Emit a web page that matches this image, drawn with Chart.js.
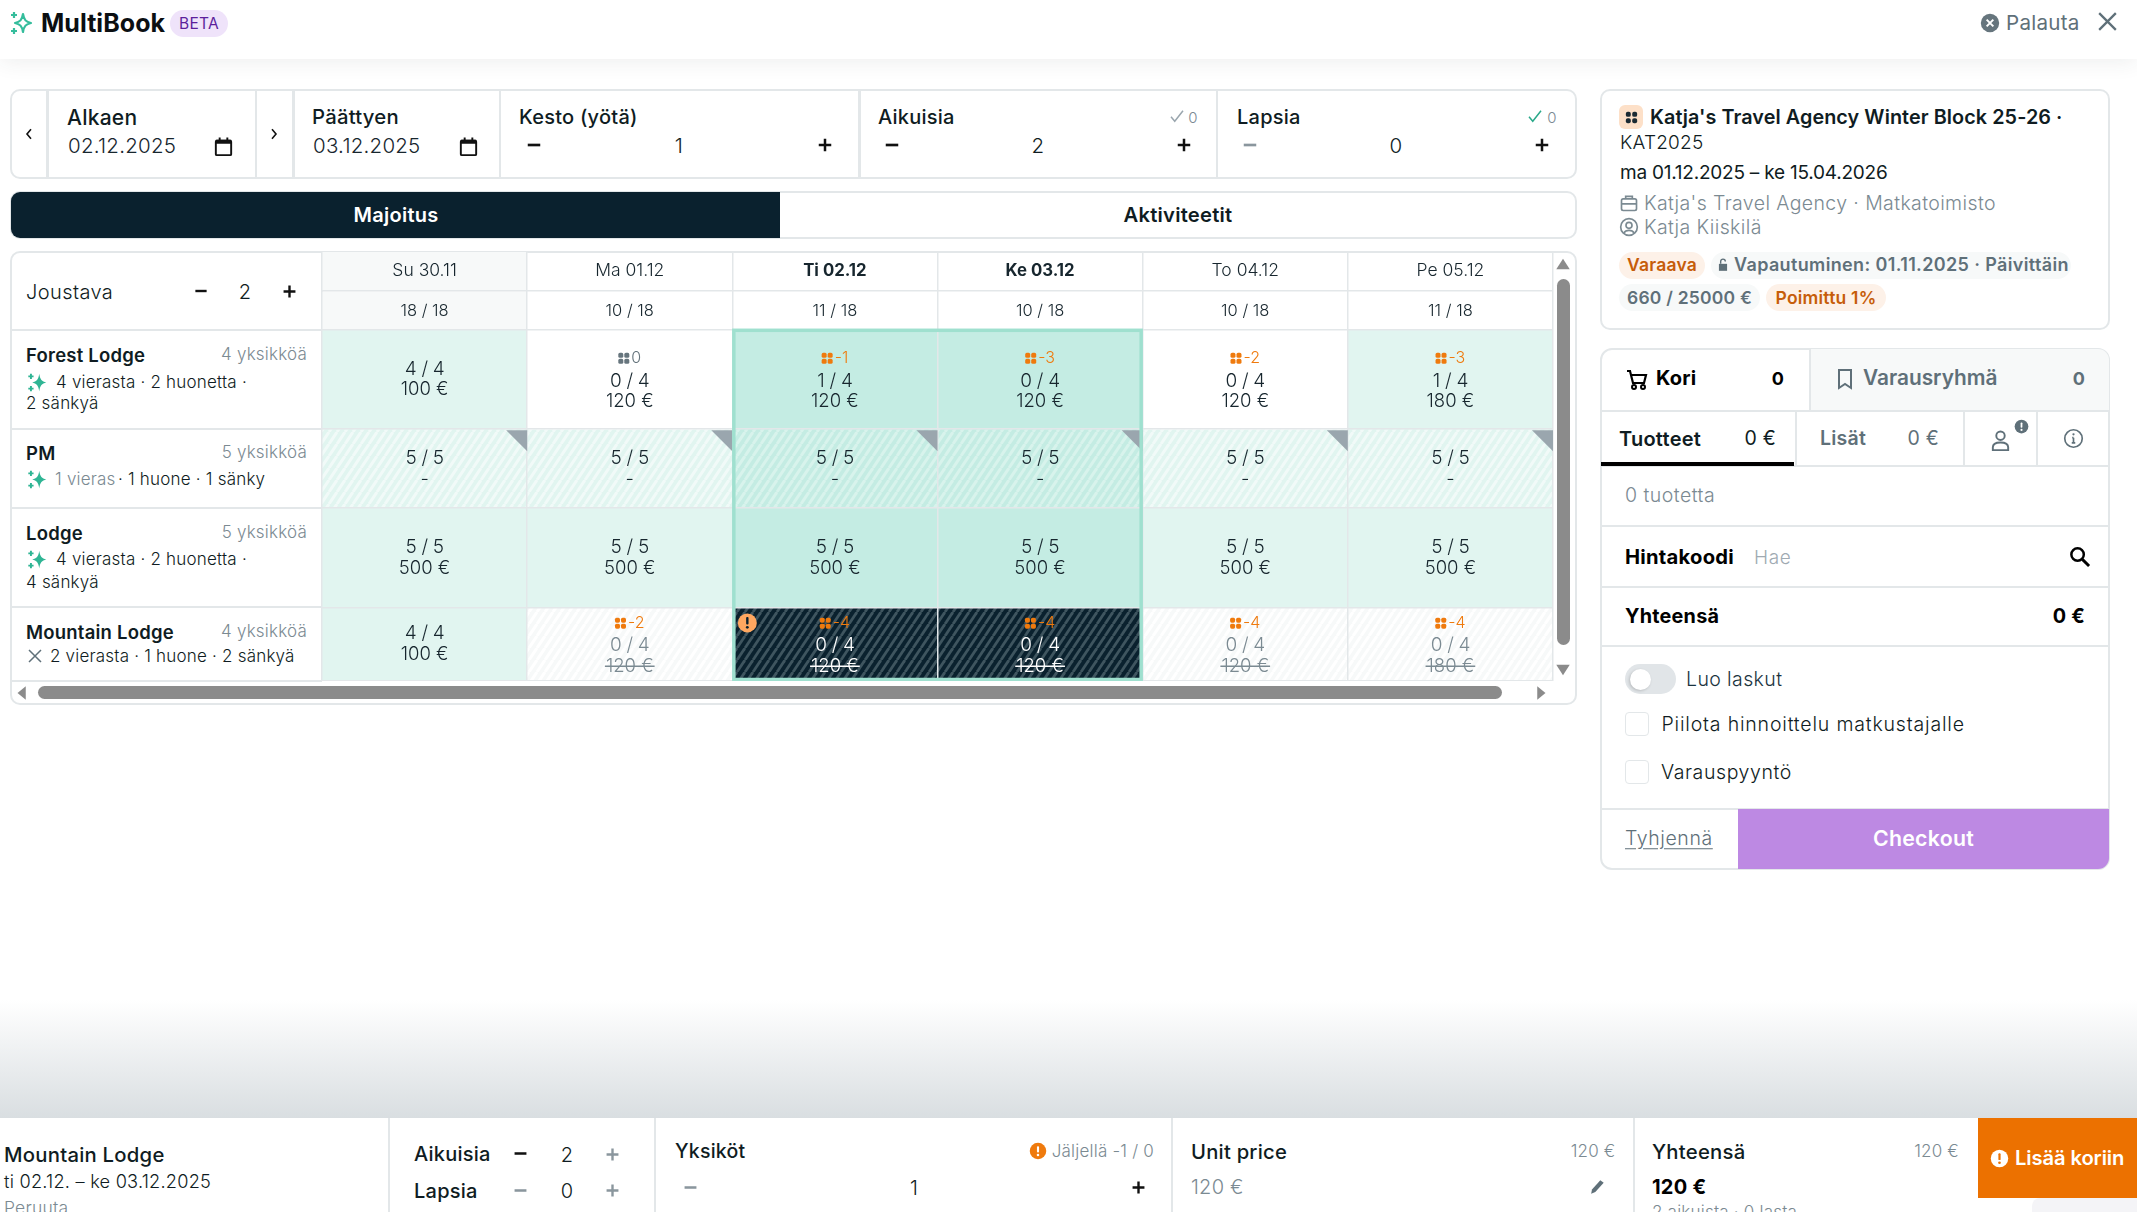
<!DOCTYPE html>
<html lang="fi"><head><meta charset="utf-8"><title>MultiBook</title>
<script src="https://cdn.jsdelivr.net/npm/chart.js@4"></script>
<style>
html,body{margin:0;padding:0;background:#fff;width:2137px;height:1212px;overflow:hidden;font-family:Inter,"Noto Sans",sans-serif;color:#0f1c22}
.t{position:absolute;white-space:nowrap;line-height:1;letter-spacing:.012em}
.b{position:absolute;box-sizing:border-box}
svg{position:absolute;overflow:visible}
#grid{position:absolute;left:321px;top:252px}
</style></head><body>
<div id="ui"></div>
<canvas id="grid" width="1233" height="429"></canvas>
<div id="ui2"></div>
<script>
// ---- data ----
const days=['Su 30.11','Ma 01.12','Ti 02.12','Ke 03.12','To 04.12','Pe 05.12'];
const selectedDays=['Ti 02.12','Ke 03.12'];
const capacityLeft=[18,10,11,10,10,11];
const capacityTotal=18;
const roomNames=['Forest Lodge','PM','Lodge','Mountain Lodge'];
const roomUnits=[4,5,5,4];
const forestAvail=[4,0,1,0,0,1];
const forestPrice=[100,120,120,120,120,180];
const forestBlock=[null,0,-1,-3,-2,-3];
const pmAvail=[5,5,5,5,5,5];
const pmPrice=[null,null,null,null,null,null];
const pmBlock=[null,null,null,null,null,null];
const lodgeAvail=[5,5,5,5,5,5];
const lodgePrice=[500,500,500,500,500,500];
const lodgeBlock=[null,null,null,null,null,null];
const mountainAvail=[4,0,0,0,0,0];
const mountainPrice=[100,120,120,120,120,180];
const mountainBlock=[null,-2,-4,-4,-4,-4];
const rowSpans=[38.5,99.5,78.5,99.5,73.5]; // relative row heights: capacity row, then rooms

// ---- helpers ----
const FONT='Inter,"Noto Sans",sans-serif';
const host=document.getElementById('ui');
function t(text,x,cy,o={}){const e=document.createElement('div');e.className='t';e.textContent=text;
 const a=o.a||'l';let tr='translateY(-50%)';if(a==='r')tr='translate(-100%,-50%)';if(a==='c')tr='translate(-50%,-50%)';
 e.style.cssText=`left:${x}px;top:${cy}px;transform:${tr};font-size:${o.s||19}px;font-weight:${o.w||400};color:${o.c||'#0f1c22'};`+(o.ls!=null?`letter-spacing:${o.ls}em;`:'')+(o.x||'');
 (o.h||host).appendChild(e);return e}
function box(x,y,w,h,css,parent){const e=document.createElement('div');e.className='b';e.style.cssText=`left:${x}px;top:${y}px;width:${w}px;height:${h}px;`+css;(parent||host).appendChild(e);return e}
function ic(cx,cy,size,inner,parent){const d=document.createElementNS('http://www.w3.org/2000/svg','svg');
 d.setAttribute('viewBox','0 0 24 24');d.setAttribute('width',size);d.setAttribute('height',size);
 d.style.left=(cx-size/2)+'px';d.style.top=(cy-size/2)+'px';d.innerHTML=inner;(parent||host).appendChild(d)}
const LINE='#e3e7e9',GR='#7b8a92',SL='#5f7079';
const plus=c=>`<path d="M12 4.5v15M4.5 12h15" stroke="${c}" stroke-width="3" fill="none"/>`;
const minus=c=>`<path d="M4.5 12h15" stroke="${c}" stroke-width="3.2" fill="none"/>`;
const cal=`<path d="M5 6h14a1 1 0 0 1 1 1v13a1 1 0 0 1-1 1H5a1 1 0 0 1-1-1V7a1 1 0 0 1 1-1z" fill="none" stroke="#111" stroke-width="2"/><path d="M4 5h16v4H4zM7 2.5h2v3H7zM15 2.5h2v3h-2z" fill="#111"/>`;
const spark=c=>`<path d="M14 2c1 6.5 3 9 8 10-5 1-7 3.5-8 10-1-6.5-3-9-8-10 5-1 7-3.5 8-10z" fill="${c}"/><path d="M4.5 2v6M1.5 5h6M4.5 16v6M1.5 19h6" stroke="${c}" stroke-width="2.2"/>`;
const check=c=>`<path d="M4 13l5 6L20 5" stroke="${c}" stroke-width="2" fill="none"/>`;
const chev=d=>`<path d="${d}" stroke="#111" stroke-width="2.4" fill="none"/>`;
const dots=c=>`<rect x="4" y="4" width="7" height="7" rx="2.6" fill="${c}"/><rect x="13" y="4" width="7" height="7" rx="2.6" fill="${c}"/><rect x="4" y="13" width="7" height="7" rx="2.6" fill="${c}"/><rect x="13" y="13" width="7" height="7" rx="2.6" fill="${c}"/>`;
const warn=(bg,fg)=>`<circle cx="12" cy="12" r="11" fill="${bg}"/><rect x="10.6" y="5.5" width="2.8" height="8.5" rx="1.2" fill="${fg}"/><circle cx="12" cy="17.4" r="1.7" fill="${fg}"/>`;

// ---- top bar ----
box(0,0,2137,59,'background:#fff;box-shadow:0 2px 22px rgba(40,60,60,.09);');
ic(22,23,24,`<path d="M13 3c1 6 3 8 8 9-5 1-7 3-8 9-1-6-3-8-8-9 5-1 7-3 8-9z" fill="none" stroke="#35bd9c" stroke-width="2.2" stroke-linejoin="round"/><path d="M4 1v6M1 4h6M4 17v6M1 20h6" stroke="#35bd9c" stroke-width="2.2"/>`);
t('MultiBook',41,23,{s:25,w:700,c:'#0b0f12',ls:.002});
box(170,10,58,27,'background:#efe3fa;border-radius:14px;');
t('BETA',199,24,{s:15.5,w:400,c:'#5c1f9c',a:'c',ls:.02});
ic(1990,23,20,`<circle cx="12" cy="12" r="11" fill="#66757d"/><path d="M8 8l8 8M16 8l-8 8" stroke="#fff" stroke-width="2.4"/>`);
t('Palauta',2006,23,{s:20.6,w:400,c:'#5f7079'});
ic(2107,21,25,`<path d="M4 4l16 16M20 4L4 20" stroke="#5f7079" stroke-width="2.2"/>`);

// ---- filter bar ----
box(10,89,1567,90,`border:2px solid ${LINE};border-radius:10px;background:#fff;`);
[[46,3],[255,2],[292,3],[499,2],[858,3],[1216,2]].forEach(([x,w])=>box(x,90,w,88,`background:${LINE};`));
ic(29,134,16,chev('M15 5l-6 7 6 7'));ic(274,134,16,chev('M9 5l6 7-6 7'));
t('Alkaen',67,116.5,{s:21,w:500});t('02.12.2025',68,146,{s:20.5,w:300,c:'#17262e'});ic(223.5,146,23,cal);
t('Päättyen',312,116.5,{s:20.3,w:500});t('03.12.2025',313,146,{s:20.5,w:300,c:'#17262e'});ic(468,146,23,cal);
t('Kesto (yötä)',519,116.5,{s:20,w:500});ic(534,145,20,minus('#111'));t('1',679,146,{s:20.5,w:300,a:'c'});ic(825,145,20,plus('#111'));
t('Aikuisia',878,116.5,{s:20,w:500});ic(1177,116,18,check('#9aa6ae'));t('0',1193,117,{s:15,w:300,c:GR,a:'c'});
ic(892,145,20,minus('#111'));t('2',1038,146,{s:20.5,w:300,a:'c'});ic(1184,145,20,plus('#111'));
t('Lapsia',1237,116.5,{s:20,w:500});ic(1535,116,18,check('#2aa98a'));t('0',1552,117,{s:15,w:300,c:GR,a:'c'});
ic(1250,145,20,minus('#8a969d'));t('0',1396,146,{s:20.5,w:300,a:'c'});ic(1542,145,20,plus('#111'));

// ---- tabs ----
box(10,191,1567,48,`border:2px solid ${LINE};border-radius:10px;background:#fff;`);
box(11,192,769,46,'background:#0a212e;border-radius:9px 0 0 9px;');
t('Majoitus',396,215,{s:20,w:600,c:'#fff',a:'c'});t('Aktiviteetit',1178,215,{s:20.2,w:600,a:'c'});

// ---- grid frame + left column ----
box(10,251,1567,454,`border:2px solid ${LINE};border-radius:10px;background:#fff;`);
t('Joustava',26,291.5,{s:20,w:300,ls:.02});ic(201,291,18,minus('#111'));t('2',245,292,{s:20,w:300,a:'c'});ic(289,291,19,plus('#111'));
const roomY=[355,453,533,632],detailY=[382,479,559,656];
const rowLines=[329,428,507,606,680];
rowLines.forEach(y=>box(12,y,310,2,`background:${LINE};`));
box(321,252,2,429,`background:${LINE};`);
roomNames.forEach((n,i)=>{t(n,26,roomY[i],{s:18.5,w:600});t(roomUnits[i]+' yksikköä',307,roomY[i]-1,{s:17,w:300,c:GR,a:'r'})});
ic(37,382,21,spark('#2fb594'));t('4 vierasta · 2 huonetta ·',56,381.5,{s:17,w:300});t('2 sänkyä',26,403,{s:17,w:300});
ic(37,479,21,spark('#2fb594'));t('1 vieras',55,479,{s:17,w:300,c:GR});t('· 1 huone · 1 sänky',118,479,{s:17,w:300});
ic(37,559,21,spark('#2fb594'));t('4 vierasta · 2 huonetta ·',56,558.5,{s:17,w:300});t('4 sänkyä',26,582,{s:17,w:300});
ic(35,656,18,`<path d="M4 4l16 16M20 4L4 20" stroke="#5f7079" stroke-width="2"/>`);t('2 vierasta · 1 huone · 2 sänkyä',50,655.5,{s:17,w:300});
// scrollbars
box(38,686,1464,13,'background:#8b8b8b;border-radius:7px;');
box(1557,279,13,366,'background:#8b8b8b;border-radius:7px;');
ic(22,692.5,18,`<path d="M17 3v18L6 12z" fill="#8b8b8b"/>`);ic(1541,692.5,18,`<path d="M7 3v18l11-9z" fill="#8b8b8b"/>`);
ic(1563,264,18,`<path d="M3 19h18L12 5z" fill="#8b8b8b"/>`);ic(1563,670,18,`<path d="M3 5h18L12 19z" fill="#8b8b8b"/>`);

// ---- right info card ----
box(1600,89,510,241,`border:2px solid ${LINE};border-radius:10px;background:#fff;`);
box(1619,105,24,24,'background:#fde0c8;border-radius:6px;');ic(1631,117,17,dots('#1b2a33'));
t("Katja's Travel Agency Winter Block 25-26 ·",1650,118,{s:19.8,w:600,ls:.004});
t('KAT2025',1620,142,{s:19,w:300});t('ma 01.12.2025 – ke 15.04.2026',1620,172,{s:19,w:400,ls:-.012});
ic(1629,203,20,`<rect x="3" y="7" width="18" height="14" rx="2" fill="none" stroke="#7b8a92" stroke-width="2"/><path d="M8 7V4h8v3M3 13h18" fill="none" stroke="#7b8a92" stroke-width="2"/>`);
t("Katja's Travel Agency · Matkatoimisto",1644,203.5,{s:19.5,w:300,c:GR,ls:.02});
ic(1629,227,20,`<circle cx="12" cy="12" r="10" fill="none" stroke="#7b8a92" stroke-width="2"/><circle cx="12" cy="10" r="3.6" fill="none" stroke="#7b8a92" stroke-width="2"/><path d="M6 19c2-4 10-4 12 0" fill="none" stroke="#7b8a92" stroke-width="2"/>`);
t('Katja Kiiskilä',1644,227.5,{s:19.5,w:300,c:GR,ls:.02});
const pill=(x,y,w,bg)=>box(x,y,w,27,`background:${bg};border-radius:14px;`);
pill(1619,252,86,'#fdf1e8');t('Varaava',1662,265,{s:17.5,w:600,c:'#c65d0a',a:'c'});
pill(1711,252,360,'#f7f9f9');ic(1723,265,14,`<path d="M5 10h14v12H5z" fill="${SL}"/><path d="M8 10V6a4 4 0 0 1 8 0" fill="none" stroke="${SL}" stroke-width="2.4"/>`);
t('Vapautuminen: 01.11.2025 · Päivittäin',1734,265,{s:18,w:600,c:SL,ls:.02});
pill(1619,284,141,'#f7f9f9');t('660 / 25000 €',1689.5,297.5,{s:17.5,w:600,c:SL,a:'c'});
pill(1766,284,120,'#fdf1e8');t('Poimittu 1%',1826,297.5,{s:17.5,w:600,c:'#c65d0a',a:'c'});

// ---- basket card ----
box(1600,348,510,522,`border:2px solid ${LINE};border-radius:12px;background:#fff;overflow:hidden;`);
box(1809,349,300,61,`background:#f7f9f9;border-left:2px solid ${LINE};border-radius:0 11px 0 0;`);
box(1601,410,508,2,`background:${LINE};`);box(1601,465,508,2,`background:${LINE};`);
box(1601,462,193,4,'background:#000;');
[1795,1963,2036].forEach(x=>box(x,411,2,55,`background:${LINE};`));
[525,586,645,808].forEach(y=>box(1601,y,508,2,`background:${LINE};`));
ic(1637,379,24,`<path d="M2 4h3l3 12h11l2-8H6" fill="none" stroke="#000" stroke-width="2.2"/><circle cx="9" cy="20" r="2" fill="none" stroke="#000" stroke-width="2"/><circle cx="18" cy="20" r="2" fill="none" stroke="#000" stroke-width="2"/>`);
t('Kori',1656,378,{s:20,w:700,c:'#000'});t('0',1778,378.5,{s:18,w:700,c:'#000',a:'c'});
ic(1845,379,24,`<path d="M6 3h12v18l-6-4-6 4z" fill="none" stroke="${SL}" stroke-width="2"/>`);
t('Varausryhmä',1863,378,{s:20.8,w:600,c:SL,ls:0});t('0',2079,378.5,{s:18,w:700,c:SL,a:'c'});
t('Tuotteet',1619,439,{s:20,w:600});t('0 €',1776,439,{s:19.5,w:400,a:'r'});
t('Lisät',1820,439,{s:19.5,w:600,c:SL});t('0 €',1939,439,{s:19.5,w:400,c:SL,a:'r'});
ic(2000,440,23,`<circle cx="12" cy="7" r="4.4" fill="none" stroke="${SL}" stroke-width="2"/><path d="M4 22v-3c0-3 3-5 8-5s8 2 8 5v3z" fill="none" stroke="${SL}" stroke-width="2"/>`);
ic(2021,426,15,warn(SL,'#fff'));
ic(2073,438,21,`<circle cx="12" cy="12" r="10" fill="none" stroke="${SL}" stroke-width="1.9"/><path d="M12 11v6M10.5 11H12M10 17h4" stroke="${SL}" stroke-width="1.9"/><circle cx="12" cy="7.2" r="1.3" fill="${SL}"/>`);
t('0 tuotetta',1625,496,{s:19.5,w:300,c:GR,ls:.025});
t('Hintakoodi',1625,556.5,{s:20.2,w:700,c:'#000'});t('Hae',1754,556.5,{s:19,w:300,c:'#a0aab2',ls:.03});
ic(2079,556,23,`<circle cx="10" cy="10" r="6.5" fill="none" stroke="#000" stroke-width="2.6"/><path d="M15 15l7 7" stroke="#000" stroke-width="3"/>`);
t('Yhteensä',1625,616.5,{s:19.8,w:700,c:'#000'});t('0 €',2085,616.5,{s:19.8,w:700,c:'#000',a:'r'});
box(1625,664,51,30,'background:#e1e5e8;border-radius:15px;');box(1630,669,21,21,'background:#fff;border-radius:50%;box-shadow:-1px 1px 3px rgba(0,0,0,.18);');
t('Luo laskut',1686,680,{s:19.5,w:300,c:'#1b3440',ls:.02});
box(1625,712,24,24,`background:#fff;border:1.5px solid ${LINE};border-radius:4px;`);
t('Piilota hinnoittelu matkustajalle',1661.5,725,{s:19.5,w:300,ls:.042});
box(1625,760,24,24,`background:#fff;border:1.5px solid ${LINE};border-radius:4px;`);
t('Varauspyyntö',1661,773,{s:19.5,w:300,ls:.03});
box(1738,809,371,60,'background:#bd89e3;border-radius:0 0 11px 0;');
t('Checkout',1923.5,838.5,{s:21.3,w:600,c:'#fff',a:'c'});
t('Tyhjennä',1625,839,{s:19.5,w:300,c:SL,x:'text-decoration:underline;text-underline-offset:3px;',ls:.03});

// ---- bottom gradient and panel ----
box(0,1000,2137,118,'background:linear-gradient(#fff,#d9dee1);');
box(0,1118,2137,94,'background:#fff;');
[388,654,1171,1633].forEach(x=>box(x,1118,1.5,94,`background:${LINE};`));
t('Mountain Lodge',4,1155,{s:20.3,w:500});t('ti 02.12. – ke 03.12.2025',4,1180.5,{s:18.2,w:300});t('Peruuta',4,1208,{s:17.5,w:300,c:GR});
t('Aikuisia',414,1154,{s:20,w:500});ic(520,1153,19,minus('#111'));t('2',567,1155,{s:20,w:300,a:'c'});ic(612,1154,19,plus('#8a969d'));
t('Lapsia',414,1190.5,{s:20,w:500});ic(520,1190,19,minus('#8a969d'));t('0',567,1191,{s:20,w:300,a:'c'});ic(612,1190,19,plus('#8a969d'));
t('Yksiköt',675,1151.5,{s:19.5,w:500});ic(1038,1151,18,warn('#ef7a0d','#fff'));t('Jäljellä -1 / 0',1154,1151,{s:17,w:300,c:GR,a:'r'});
ic(690,1187,19,minus('#8a969d'));t('1',914,1188,{s:20,w:300,a:'c'});ic(1138,1187,19,plus('#111'));
t('Unit price',1191,1151.5,{s:20.2,w:500});t('120 €',1615.5,1151,{s:17,w:300,c:GR,a:'r'});
t('120 €',1191,1187,{s:20,w:300,c:GR});ic(1597,1187,20,`<path d="M5 20l1-5L16 4l4 3-10 11z" fill="#5f7079"/>`);
t('Yhteensä',1652,1151.5,{s:20.3,w:500});t('120 €',1959,1151,{s:17,w:300,c:GR,a:'r'});
t('120 €',1652,1187,{s:20,w:700,c:'#000'});t('2 aikuista · 0 lasta',1652,1212,{s:17,w:300,c:GR});
box(1978,1118,159,80,'background:#ec7100;');
box(2032,1198,105,14,'background:#f4f4f7;border-radius:8px 0 0 0;');
ic(1999,1158,19,warn('#fff','#ec7100'));t('Lisää koriin',2015,1158,{s:20.2,w:600,c:'#fff',ls:-.005});

// ---- chart: availability grid ----
function hatch(bg,fg,w){const px=8,py=12,c=document.createElement('canvas');c.width=px;c.height=py;const g=c.getContext('2d');
 g.fillStyle=bg;g.fillRect(0,0,px,py);g.strokeStyle=fg;g.lineWidth=w;
 [-px,0,px].forEach(o=>{g.beginPath();g.moveTo(o,py);g.lineTo(o+px,0);g.stroke()});
 return document.getElementById('grid').getContext('2d').createPattern(c,'repeat')}
const C={open:'#e1f5f0',openSel:'#c4ece3',empty:'#ffffff',
 pm:hatch('#e1f5f0','#f1faf8',3),pmSel:hatch('#c4ece3','#d8f3ec',3),
 closed:hatch('#f7f9f9','#ffffff',3),closedSel:hatch('#0a212e','#3f555f',2.8)};
const isSel=d=>selectedDays.includes(d);
const rooms=[
 {avail:forestAvail,price:forestPrice,block:forestBlock,total:roomUnits[0],style:(a,s)=>a>0||s?(s?C.openSel:C.open):C.empty},
 {avail:pmAvail,price:pmPrice,block:pmBlock,total:roomUnits[1],style:(a,s)=>s?C.pmSel:C.pm,corner:true},
 {avail:lodgeAvail,price:lodgePrice,block:lodgeBlock,total:roomUnits[2],style:(a,s)=>s?C.openSel:C.open},
 {avail:mountainAvail,price:mountainPrice,block:mountainBlock,total:roomUnits[3],style:(a,s)=>a>0?C.open:(s?C.closedSel:C.closed),closing:true}];
const datasets=[{label:'Kapasiteetti',data:days.map(()=>rowSpans[0]),backgroundColor:days.map((d,i)=>i===0?'#f7f9f9':'#ffffff')}]
 .concat(rooms.map((r,i)=>({label:roomNames[i],data:days.map(()=>rowSpans[i+1]),
  backgroundColor:days.map((d,j)=>r.style(r.avail[j],isSel(d)))})));
const cellFont=(w,s)=>`${w} ${s}px ${FONT}`;
function label(g,text,x,y,font,color,ls){g.font=font;g.fillStyle=color;g.letterSpacing=(ls||0)+'px';g.textAlign='center';g.textBaseline='middle';g.fillText(text,x,y);g.letterSpacing='0px'}
function dotsAt(g,x,y,c){g.fillStyle=c;[[0,0],[6,0],[0,6],[6,6]].forEach(([a,b])=>{g.beginPath();g.roundRect(x+a,y+b,5,5,1.6);g.fill()})}
const gridPlugin={id:'cells',
 beforeDraw(ch){const g=ch.ctx,m=ch.getDatasetMeta(0).data[0];g.save();g.fillStyle='#f7f9f9';g.fillRect(m.x-m.width/2,0,m.width,ch.chartArea.top);g.restore()},
 afterDraw(ch){const g=ch.ctx;g.save();
  ch.getDatasetMeta(0).data.forEach((b,j)=>label(g,`${capacityLeft[j]} / ${capacityTotal}`,b.x,(b.y+b.base)/2,cellFont(300,16.5),'#17262e'));
  rooms.forEach((r,i)=>{ch.getDatasetMeta(i+1).data.forEach((b,j)=>{
   const top=Math.min(b.y,b.base),h=Math.abs(b.y-b.base),cy=top+h/2,x=b.x,right=x+b.width/2,sel=isSel(days[j]);
   const dark=r.closing&&r.avail[j]===0&&sel,closed=r.closing&&r.avail[j]===0;
   const main=dark?'#ffffff':closed?'#7b8a92':'#17262e';
   if(r.corner){g.fillStyle='#9aa6ae';g.beginPath();g.moveTo(right-21,top+1);g.lineTo(right,top+1);g.lineTo(right,top+22);g.fill()}
   const av=`${r.avail[j]} / ${r.total}`,pr=r.price[j]==null?'-':`${r.price[j]} €`;
   if(r.block[j]!=null){const o=r.block[j]===0?'#66757d':'#ef7a0d',txt=String(r.block[j]);
    g.font=cellFont(300,16);const tw=g.measureText(txt).width,sx=x-(11+tw+2)/2;
    dotsAt(g,sx,cy-26.5,o);g.textAlign='left';g.textBaseline='middle';g.fillStyle=o;g.fillText(txt,sx+13,cy-21);
    label(g,av,x,cy+1.5,cellFont(300,19),main,-.3);label(g,pr,x,cy+22,cellFont(300,18.5),main);
    if(closed){g.font=cellFont(300,18.5);const w=g.measureText(pr).width;g.strokeStyle=main;g.lineWidth=1.4;g.beginPath();g.moveTo(x-w/2-1,cy+22);g.lineTo(x+w/2+1,cy+22);g.stroke()}
   }else{label(g,av,x,cy-10.5,cellFont(300,19),main,-.3);label(g,pr,x,cy+10.5,cellFont(300,18.5),main)}
  })});
  // selection outline
  const m=ch.getDatasetMeta(1).data,a=m[days.indexOf(selectedDays[0])],z=m[days.indexOf(selectedDays[selectedDays.length-1])];
  const L=a.x-a.width/2,R=z.x+z.width/2,T=ch.chartArea.top+ch.getDatasetMeta(0).data[0].height,B=ch.chartArea.bottom;
  g.strokeStyle='#9fe0cf';g.lineWidth=3.5;g.strokeRect(L+1.5,T+1.5,R-L-3,B-T-3);
  // warning marker in the first selected closed cell
  const w=ch.getDatasetMeta(4).data[days.indexOf(selectedDays[0])],wt=Math.min(w.y,w.base);
  const wx=w.x-w.width/2+15,wy=wt+15.5;g.fillStyle='#ffa760';g.beginPath();g.arc(wx,wy,9.5,0,7);g.fill();
  g.fillStyle='#0a212e';g.beginPath();g.roundRect(wx-1.2,wy-6,2.4,7.5,1);g.fill();g.beginPath();g.arc(wx,wy+4.4,1.4,0,7);g.fill();
  g.restore()}};
Chart.defaults.animation=false;
new Chart(document.getElementById('grid'),{type:'bar',data:{labels:days,datasets},plugins:[gridPlugin],
 options:{responsive:false,devicePixelRatio:1,animation:false,layout:{padding:{left:1,right:1,bottom:0,top:0}},
  plugins:{legend:{display:false},tooltip:{enabled:false}},
  datasets:{bar:{barPercentage:1,categoryPercentage:1,borderWidth:0}},
  scales:{
   x:{position:'top',stacked:true,offset:true,afterFit:s=>{s.height=39},
    grid:{color:LINE,lineWidth:1.5,z:1,tickLength:39,offset:true},border:{display:false},
    ticks:{autoSkip:false,maxRotation:0,padding:-29,color:'#17262e',
     font:c=>isSel(days[c.index])?{family:FONT,size:16.8,weight:'700'}:{family:FONT,size:17.5,weight:'300'}}},
   y:{stacked:true,reverse:true,min:0,max:rowSpans.reduce((a,b)=>a+b,0),afterFit:s=>{s.width=0},
    afterBuildTicks:s=>{let v=0;s.ticks=[{value:0}].concat(rowSpans.map(w=>({value:v+=w})))},
    grid:{color:LINE,lineWidth:1.5,z:1,drawTicks:false},border:{display:false},ticks:{display:false}}}}});
</script></body></html>
